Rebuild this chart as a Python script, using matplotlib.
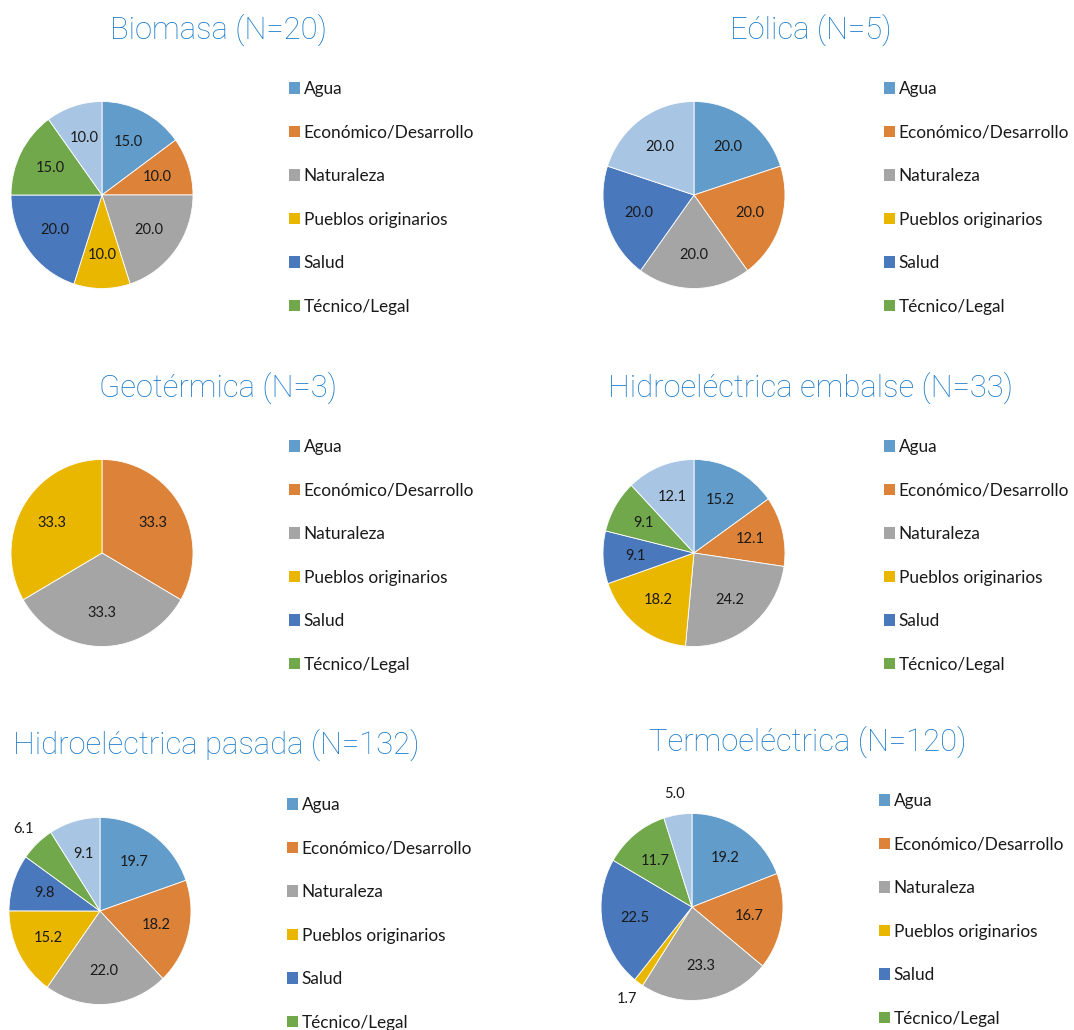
import matplotlib
matplotlib.use("Agg")
import matplotlib.pyplot as plt
from matplotlib.patches import Patch
import numpy as np

# Categories (the last one has no legend entry)
categories = ["Agua", "Económico/Desarrollo", "Naturaleza", "Pueblos originarios",
              "Salud", "Técnico/Legal", "Otros"]
colors = ["#619CCB", "#DD8339", "#A5A5A5", "#E9B600", "#4A78BC", "#72A84C", "#A8C6E4"]

titles = ["Biomasa (N=20)", "Eólica (N=5)", "Geotérmica (N=3)",
          "Hidroeléctrica embalse (N=33)", "Hidroeléctrica pasada (N=132)",
          "Termoeléctrica (N=120)"]

biomasa = [15.0, 10.0, 20.0, 10.0, 20.0, 15.0, 10.0]
eolica = [20.0, 20.0, 20.0, 0.0, 20.0, 0.0, 20.0]
geotermica = [0.0, 33.3, 33.3, 33.3, 0.0, 0.0, 0.0]
hidro_embalse = [15.2, 12.1, 24.2, 18.2, 9.1, 9.1, 12.1]
hidro_pasada = [19.7, 18.2, 22.0, 15.2, 9.8, 6.1, 9.1]
termoelectrica = [19.2, 16.7, 23.3, 1.7, 22.5, 11.7, 5.0]

series = [biomasa, eolica, geotermica, hidro_embalse, hidro_pasada, termoelectrica]

W, H = 1074, 1030
fig = plt.figure(figsize=(W / 100, H / 100), dpi=100)
fig.patch.set_facecolor("white")

# panel geometry in pixels: pie centre, title centre, legend top-left
pie_centres = [(102, 195), (694, 195), (102, 553), (694, 553), (100, 911), (692, 907)]
title_pos = [(218, 30), (811, 30), (218, 388), (811, 388), (216, 745), (808, 742)]
legend_pos = [(289, 90), (884, 90), (289, 448), (884, 448), (287, 806), (879, 802)]
RX, RY = 91.0, 93.5
LIM = 1.5

label_font = ["Lato", "DejaVu Sans"]
title_font = ["Roboto", "DejaVu Sans"]

for vals, title, (cx, cy), (tx, ty), (lx, ly) in zip(series, titles, pie_centres,
                                                     title_pos, legend_pos):
    w = 2 * LIM * RX
    h = 2 * LIM * RY
    ax = fig.add_axes([(cx - w / 2) / W, 1 - (cy + h / 2) / H, w / W, h / H])
    idx = [i for i, v in enumerate(vals) if v > 0]
    wedges, _ = ax.pie([vals[i] for i in idx], colors=[colors[i] for i in idx],
                       startangle=90, counterclock=False, radius=1.0,
                       wedgeprops=dict(edgecolor="white", linewidth=0.6))
    ax.set_xlim(-LIM, LIM)
    ax.set_ylim(-LIM, LIM)
    ax.set_aspect("auto")
    ax.axis("off")
    for wdg, i in zip(wedges, idx):
        v = vals[i]
        ang = np.deg2rad((wdg.theta1 + wdg.theta2) / 2)
        d = 1.22 if v < 7 else 0.64
        ax.text(d * np.cos(ang), d * np.sin(ang), f"{v:.1f}", ha="center",
                va="center", fontsize=10.5, family=label_font, color="#1a1a1a")

    fig.text(tx / W, 1 - ty / H, title, ha="center", va="center", fontsize=22.3,
             family=title_font, fontweight="light", color="#1A7AC8")

    handles = [Patch(facecolor=colors[i], edgecolor="none") for i in range(6)]
    leg = fig.legend(handles, categories[:6], loc="upper left",
                     bbox_to_anchor=(lx / W, 1 - (ly - 9) / H), frameon=False,
                     handlelength=0.65, handleheight=0.65, handletextpad=0.2,
                     labelspacing=1.6, borderpad=0, borderaxespad=0,
                     prop=dict(family=label_font, size=12.4))
    for t in leg.get_texts():
        t.set_color("#1a1a1a")

fig.savefig("out.png", dpi=100, facecolor="white")
